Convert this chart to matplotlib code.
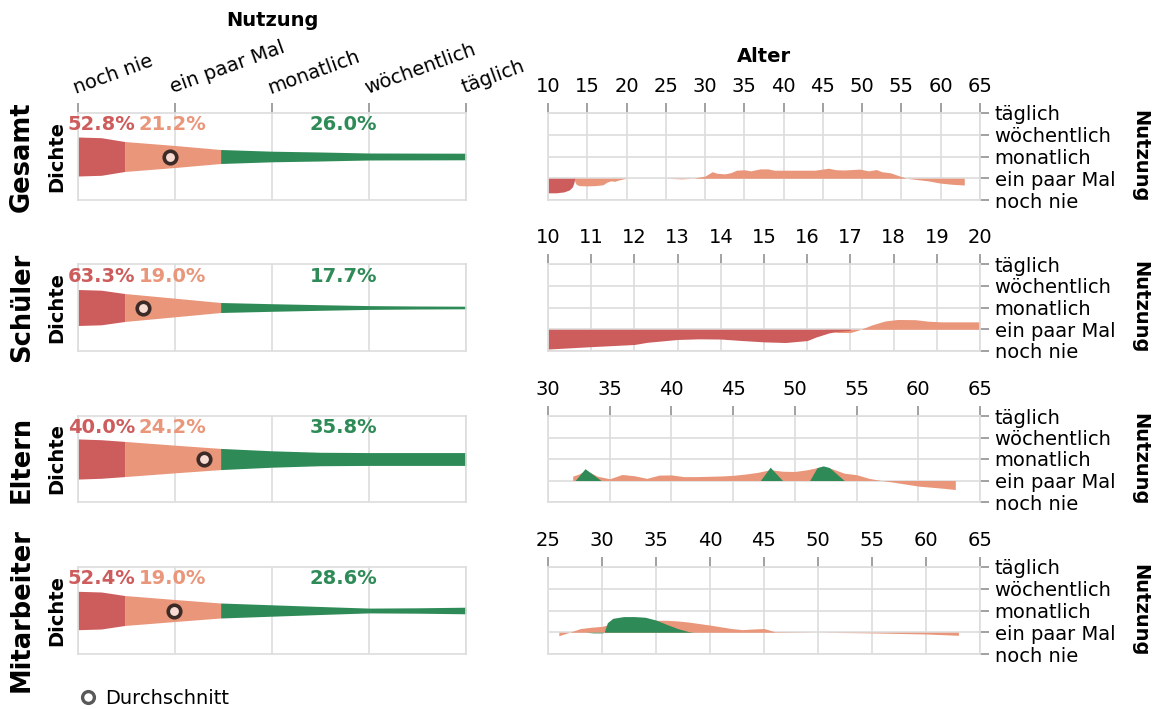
"""
Nutzung nach Gruppe: Dichte der Nutzungshaeufigkeit (links) und Nutzung nach Alter (rechts).
"""

import matplotlib.pyplot as plt
from matplotlib.lines import Line2D

W, H = 1156, 709

GROUPS = ['Gesamt', 'Schüler', 'Eltern', 'Mitarbeiter']
USAGE = ['noch nie', 'ein paar Mal', 'monatlich', 'wöchentlich', 'täglich']

RED = '#cd5c5c'
ORANGE = '#e9967a'
GREEN = '#2e8b57'
GRID = '#dddddd'
TICK = '#888888'
FS = 14

# share per usage segment in percent
PCT_NIE = [52.8, 63.3, 40.0, 52.4]
PCT_PAAR = [21.2, 19.0, 24.2, 19.0]
PCT_REG = [26.0, 17.7, 35.8, 28.6]

# mean usage (0 = noch nie ... 4 = täglich)
MEAN_USAGE = [0.95, 0.67, 1.30, 0.99]

# violin half width ("Dichte") along the usage axis, one segment per colour
DENS_X_NIE = [0.0, 0.24, 0.48]
DENS_X_PAAR = [0.48, 1.0, 1.47]
DENS_X_REG = [1.47, 2.0, 2.5, 3.0, 3.5, 4.0]
DENS_NIE = [[19.5, 18.8, 15.0], [18.0, 17.3, 14.0], [20.3, 19.5, 17.8], [19.2, 18.5, 15.0]]
DENS_PAAR = [[15.0, 11.0, 7.0], [14.0, 9.3, 5.0], [17.8, 14.0, 10.7], [15.0, 11.0, 7.5]]
DENS_REG = [[7.0, 5.3, 4.5, 3.5, 3.4, 3.3],
            [5.0, 3.8, 2.8, 1.9, 1.5, 1.3],
            [10.7, 8.3, 6.8, 6.5, 6.5, 6.5],
            [7.5, 5.7, 4.0, 2.4, 2.7, 3.3]]

# age axis per group
AGE_MIN = [10, 10, 30, 25]
AGE_MAX = [65, 20, 65, 65]
AGE_STEP = [5, 1, 5, 5]

# mean usage by age, split by colour (baseline = ein paar Mal)
AGE_RED = [[10, 11, 12, 12.7, 13.1, 13.3, 13.4],
           [10, 11, 12, 12.3, 13, 13.5, 14, 14.5, 15, 15.5, 16, 16.2, 16.5, 16.7, 17],
           [], []]
VAL_RED = [[0.33, 0.33, 0.37, 0.46, 0.6, 0.8, 1.0],
           [0.09, 0.2, 0.3, 0.4, 0.53, 0.56, 0.55, 0.48, 0.42, 0.39, 0.48, 0.64, 0.83, 0.9, 0.95],
           [], []]

AGE_ORANGE = [
    [13.2, 13.6, 14, 15, 16, 17, 17.5, 18, 18.5, 19, 20, 25, 27, 28.5, 30, 30.9, 31.5,
     32.5, 33.3, 34, 35, 35.8, 37, 38, 38.8, 40, 44, 45.7, 46.7, 47.7, 49.7, 50.8, 51.8,
     52.5, 53.6, 54.8, 55.6, 58.4, 59.9, 61.5, 63],
    [16.4, 16.7, 17.0, 17.2, 17.5, 17.8, 18.1, 18.5, 18.8, 19.1, 20],
    [32, 32.001, 32.5, 33, 33.5, 34, 35, 36, 37, 38, 39, 40, 41, 42, 44, 45, 46, 47, 48,
     49, 50, 51, 52, 53, 54, 55, 56, 57, 58, 60, 62, 63],
    [26, 27, 28, 29, 30, 31, 32, 33, 34, 35, 36, 37, 38, 39, 40, 41, 42, 43, 44, 45,
     45.5, 46, 50, 55, 60, 63],
]
VAL_ORANGE = [
    [1.0, 0.72, 0.66, 0.65, 0.66, 0.7, 0.82, 0.88, 0.86, 0.92, 1.0, 1.0, 0.97, 1.0, 1.1,
     1.3, 1.23, 1.2, 1.26, 1.37, 1.39, 1.34, 1.43, 1.43, 1.37, 1.37, 1.37, 1.46, 1.39,
     1.38, 1.42, 1.34, 1.4, 1.3, 1.25, 1.1, 1.0, 0.88, 0.78, 0.72, 0.69],
    [1.0, 0.85, 0.85, 0.97, 1.2, 1.38, 1.45, 1.44, 1.37, 1.34, 1.34],
    [1.0, 1.2, 1.3, 1.45, 1.35, 1.2, 1.08, 1.28, 1.22, 1.1, 1.25, 1.26, 1.18, 1.18, 1.21,
     1.24, 1.3, 1.38, 1.5, 1.43, 1.42, 1.5, 1.62, 1.55, 1.34, 1.27, 1.1, 1.0, 0.92, 0.74,
     0.64, 0.58],
    [0.84, 1.0, 1.17, 1.23, 1.27, 1.4, 1.45, 1.5, 1.52, 1.55, 1.55, 1.52, 1.47, 1.4, 1.33,
     1.25, 1.17, 1.12, 1.15, 1.17, 1.1, 1.02, 1.0, 0.97, 0.92, 0.86],
]

AGE_GREEN = [
    [], [],
    [32.2, 33, 34.3, 47.2, 48, 49, 51.2, 51.8, 52.3, 52.8, 54.0],
    [28.5, 29.2, 30.0, 30.2, 30.5, 31, 32, 33, 34, 35, 36, 37, 38, 38.5],
]
VAL_GREEN = [
    [], [],
    [1.0, 1.55, 1.0, 1.0, 1.62, 1.0, 1.0, 1.6, 1.68, 1.6, 1.0],
    [1.0, 0.97, 0.97, 1.0, 1.44, 1.64, 1.72, 1.72, 1.69, 1.56, 1.36, 1.17, 1.03, 1.0],
]

ROW_TOP = [113, 264, 416, 567]
ROW_BOTTOM = [200, 351, 502, 654]
LEFT_X = (78, 466)
RIGHT_X = (548, 980)
HALF = 43.5


def px_rect(left, top, right, bottom):
    return [left / W, 1 - bottom / H, (right - left) / W, (bottom - top) / H]


def draw_violin(ax, i):
    ax.set_xlim(0, 4)
    ax.set_ylim(-HALF, HALF)
    for xs, hw, col in [(DENS_X_NIE, DENS_NIE[i], RED),
                        (DENS_X_PAAR, DENS_PAAR[i], ORANGE),
                        (DENS_X_REG, DENS_REG[i], GREEN)]:
        ax.fill_between(xs, [-v for v in hw], hw, color=col, lw=0)

    y_lab = HALF - 12
    ax.text(sum(DENS_X_NIE[::2]) / 2, y_lab, f'{PCT_NIE[i]:.1f}%', color=RED,
            ha='center', va='center', fontsize=FS, fontweight='bold')
    ax.text(sum(DENS_X_PAAR[::2]) / 2, y_lab, f'{PCT_PAAR[i]:.1f}%', color=ORANGE,
            ha='center', va='center', fontsize=FS, fontweight='bold')
    ax.text((DENS_X_REG[0] + DENS_X_REG[-1]) / 2, y_lab, f'{PCT_REG[i]:.1f}%', color=GREEN,
            ha='center', va='center', fontsize=FS, fontweight='bold')

    ax.plot(MEAN_USAGE[i], 0, 'o', ms=9, mfc='#f8dcd4', mec='#3b2a26', mew=2.6, zorder=5)

    ax.set_xticks(range(5))
    ax.set_yticks([])
    ax.grid(axis='x', color=GRID, lw=1.2)
    ax.set_axisbelow(True)
    for sp in ax.spines.values():
        sp.set_color(GRID)
        sp.set_linewidth(1.2)
    ax.xaxis.tick_top()
    if i == 0:
        ax.tick_params(axis='x', length=7, width=1.1, color=TICK, labeltop=False)
        for k, lab in enumerate(USAGE):
            ax.annotate(lab, xy=(k, 1), xycoords=('data', 'axes fraction'),
                        xytext=(-1.5, 14), textcoords='offset points', rotation=20,
                        rotation_mode='anchor', ha='left', va='baseline', fontsize=FS,
                        annotation_clip=False)
    else:
        ax.tick_params(axis='x', length=0, labeltop=False)


def draw_age(ax, i):
    ax.set_xlim(AGE_MIN[i], AGE_MAX[i])
    ax.set_ylim(0, 4)
    for ages, vals, col in [(AGE_ORANGE[i], VAL_ORANGE[i], ORANGE),
                            (AGE_RED[i], VAL_RED[i], RED),
                            (AGE_GREEN[i], VAL_GREEN[i], GREEN)]:
        if ages:
            ax.fill_between(ages, 1, vals, color=col, lw=0)

    ax.set_xticks(range(AGE_MIN[i], AGE_MAX[i] + 1, AGE_STEP[i]))
    ax.xaxis.tick_top()
    ax.tick_params(axis='x', length=7.5, width=1.1, color=TICK, labelsize=FS, pad=5)
    ax.set_yticks(range(5))
    ax.set_yticklabels(USAGE)
    ax.yaxis.tick_right()
    ax.tick_params(axis='y', length=6.5, width=1.1, color=TICK, labelsize=FS, pad=4)
    ax.grid(True, color=GRID, lw=1.2)
    ax.set_axisbelow(True)
    for sp in ax.spines.values():
        sp.set_color(GRID)
        sp.set_linewidth(1.2)


def main():
    fig = plt.figure(figsize=(W / 100, H / 100), dpi=100)

    for i, group in enumerate(GROUPS):
        top, bottom = ROW_TOP[i], ROW_BOTTOM[i]
        mid = 1 - (top + bottom) / 2 / H

        ax_l = fig.add_axes(px_rect(LEFT_X[0], top, LEFT_X[1], bottom))
        draw_violin(ax_l, i)
        ax_r = fig.add_axes(px_rect(RIGHT_X[0], top, RIGHT_X[1], bottom))
        draw_age(ax_r, i)

        fig.text(22 / W, mid, group, rotation=90, ha='center', va='center',
                 fontsize=18.5, fontweight='bold')
        fig.text(57 / W, mid, 'Dichte', rotation=90, ha='center', va='center',
                 fontsize=FS, fontweight='bold')
        fig.text(1140 / W, mid, 'Nutzung', rotation=270, ha='center', va='center',
                 fontsize=FS, fontweight='bold')

    fig.text(sum(LEFT_X) / 2 / W, 1 - 20 / H, 'Nutzung', ha='center', va='center',
             fontsize=FS, fontweight='bold')
    fig.text(sum(RIGHT_X) / 2 / W, 1 - 57 / H, 'Alter', ha='center', va='center',
             fontsize=FS, fontweight='bold')

    # legend for the mean marker
    marker = Line2D([], [], ls='none', marker='o', ms=8.5, mfc='white', mec='#595959', mew=2.4)
    fig.legend(handles=[marker], labels=['Durchschnitt'], loc='center left',
               bbox_to_anchor=(72 / W, 1 - 698 / H), frameon=False, fontsize=FS,
               handlelength=0.8, handletextpad=0.5, borderaxespad=0)

    fig.savefig('out.png', dpi=100)


if __name__ == '__main__':
    main()
